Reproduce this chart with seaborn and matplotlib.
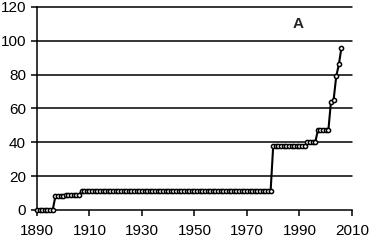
import numpy as np
import pandas as pd
import matplotlib
matplotlib.use("Agg")
import matplotlib.pyplot as plt
import seaborn as sns

# yearly values (step series)
years = list(range(1890, 2007))
values = ([0] * 7          # 1890-1896
          + [8] * 4        # 1897-1900
          + [9] * 6        # 1901-1906
          + [11] * 73      # 1907-1979
          + [38] * 13      # 1980-1992
          + [40] * 4       # 1993-1996
          + [47] * 5       # 1997-2001
          + [64, 65, 79, 86, 96])  # 2002-2006

x_ticks = [1890, 1910, 1930, 1950, 1970, 1990, 2010]
y_ticks = [0, 20, 40, 60, 80, 100, 120]

df = pd.DataFrame({"Year": years, "Value": values})

sns.set_style("ticks")
plt.rcParams['font.family'] = ['Liberation Sans', 'DejaVu Sans']

fig = plt.figure(figsize=(3.71, 2.41), dpi=100)
ax = fig.add_axes([0.0997, 0.129, 0.849, 0.842])

for y in y_ticks[1:]:
    ax.axhline(y, color='black', lw=1.1, zorder=1)

sns.lineplot(data=df, x='Year', y='Value', ax=ax, color='black', lw=1.5,
             marker='o', markersize=3.0, markerfacecolor='white',
             markeredgecolor='black', markeredgewidth=1.1, zorder=3)
for ln in ax.get_lines():
    ln.set_clip_on(False)

ax.set_xlim(1890, 2010)
ax.set_ylim(0, 120)
ax.set_xticks(x_ticks)
ax.set_yticks(y_ticks)
ax.tick_params(axis='both', labelsize=11, length=4, width=1.1, color='black',
               labelcolor='black')
ax.tick_params(axis='x', pad=6)
ax.tick_params(axis='y', pad=4)
ax.set_xlabel('')
ax.set_ylabel('')
for s in ['top', 'right']:
    ax.spines[s].set_visible(False)
for s in ['left', 'bottom']:
    ax.spines[s].set_color('black')
    ax.spines[s].set_linewidth(1.1)

ax.text(1989.5, 110, 'A', fontsize=11, fontweight='bold', ha='center', va='center')

fig.savefig('out.png', dpi=100)
